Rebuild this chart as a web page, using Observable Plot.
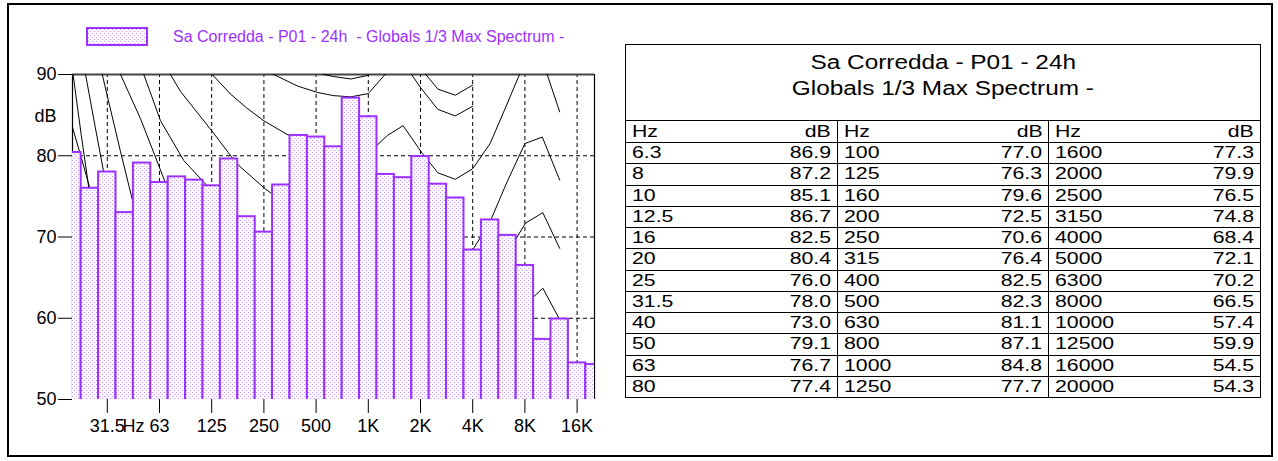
<!DOCTYPE html>
<html>
<head>
<meta charset="utf-8">
<script src="https://cdn.jsdelivr.net/npm/d3@7"></script>
<script src="https://cdn.jsdelivr.net/npm/@observablehq/plot@0.6"></script>
<style>
  html, body { margin: 0; padding: 0; background: #fff; }
  body { font-family: "Liberation Sans", Arial, Helvetica, sans-serif; }
  #page { position: relative; width: 1278px; height: 461px; overflow: hidden; background: #fff; }
  #frame { position: absolute; left: 7px; top: 3px; width: 1262px; height: 450px; border: 2px solid #000; box-sizing: content-box; }
  #chart { position: absolute; left: 0; top: 0; }
  #legend { position: absolute; left: 86px; top: 27px; height: 20px; display: flex; align-items: center; }
  #legend .txt { margin-left: 25px; font-size: 16px; color: #9b30ff; white-space: pre; }
  #tbl { position: absolute; left: 625px; top: 44px; border-collapse: collapse; table-layout: fixed; width: 635px; border: 1px solid #000; }
  #tbl td { padding: 0 6px; white-space: nowrap; overflow: visible; font-size: 17px; color: #000; border-bottom: 1px solid #000; line-height: 18px; }
  #tbl td.sep { border-right: 1px solid #000; }
  #tbl td.l { text-align: left; }
  #tbl td.r { text-align: right; }
  #tbl td span { display: inline-block; transform: scaleX(1.25); }
  #tbl td.l span { transform-origin: left center; }
  #tbl td.r span { transform-origin: right center; }
  #tbl td.title { text-align: center; vertical-align: top; padding-top: 4px; }
  #tbl td.title div { font-size: 19.5px; line-height: 26px; }
  #tbl td.title span { transform-origin: center center; }
</style>
</head>
<body>
<div id="page">
  <div id="frame"></div>
  <div id="chart"></div>
  <div id="legend"></div>
  <table id="tbl"></table>
</div>
<script>
// ---------------- data ----------------
const seriesName = "Sa Corredda - P01 - 24h  - Globals 1/3 Max Spectrum -";
const tableTitle1 = "Sa Corredda - P01 - 24h";
const tableTitle2 = "Globals 1/3 Max Spectrum -";
const unitHz = "Hz";
const unitDb = "dB";

const freqLabels = ["6.3","8","10","12.5","16","20","25","31.5","40","50","63","80",
  "100","125","160","200","250","315","400","500","630","800","1000","1250",
  "1600","2000","2500","3150","4000","5000","6300","8000","10000","12500","16000","20000"];
const levels = [86.9,87.2,85.1,86.7,82.5,80.4,76.0,78.0,73.0,79.1,76.7,77.4,
  77.0,76.3,79.6,72.5,70.6,76.4,82.5,82.3,81.1,87.1,84.8,77.7,
  77.3,79.9,76.5,74.8,68.4,72.1,70.2,66.5,57.4,59.9,54.5,54.3];

const chartFirstBand = "20";
const tickBands = ["31.5","63","125","250","500","1000","2000","4000","8000","16000"];
const tickLabels = ["31.5","63","125","250","500","1K","2K","4K","8K","16K"];
const yTicks = [50,60,70,80,90];
const yGrid = [60,70,80];
const yDomain = [50,90];

// isophonic reference curves: [band position (0 = 20 Hz), dB]
const isoLowA = [[0,83.5],[0.5,79.8],[1,76.0],[1.5,72.5]];
const isoLowB = [[-0.1,91.5],[0.04,89.9],[0.5,82.6],[0.94,76.0],[1.5,70]];
const isoLowC = [[0.6,92],[0.75,90],[1.3,83.6],[1.8,77.9],[2.5,71]];
const isoLowD = [[1.5,92.5],[1.71,90],[2.76,80.5],[3.52,73.9],[4.2,69]];
const isoLowE = [[2.5,91.3],[2.76,90],[3.91,84.55],[5.3,76.9],[6,74]];
const isoLowF = [[3.8,92],[4.1,90],[5.06,84.3],[6.4,79.4],[7.74,76.3],[8.5,75]];
const isoMidA = [[5.3,92],[5.63,90],[6.21,87.9],[8.03,83.0],[9.18,79.75],[9.56,78.8],[11.09,75.9],[12,74.5]];
const isoMidB = [[7.5,91.3],[8.03,90],[9.08,87.6],[10,85.9],[11,84.3],[12.43,82.5],[13,82]];
const iso876 = [[10.5,91.3],[11.57,90],[12.91,88.6],[14.06,87.8],[15,87.4],[16,87.25],[17,87.65],[18,90.1],[19,91.5],[20,88.4],[21,85.7],[22,84.9],[23,86.1]];
const iso900 = [[13.5,90.8],[14.44,90],[15,89.75],[16,89.45],[17,89.9],[18,92.5],[19,93.9],[20,90.8],[21,88.2],[22,87.45],[23,88.7]];
const iso796 = [[16.5,77.5],[17,79.5],[17.5,81.3],[18.1,82.5],[19,83.7],[20.1,80.3],[21,77.9],[22,77.1],[23,78.4],[24,81.5],[25,86.5],[25.69,90],[26,91.5]];
const isoHighA = [[22,66.8],[23,68.4],[24,71.9],[25,76.9],[26,81.5],[27,82.3],[28,77.0]];
const isoHighB = [[25,68.2],[25.55,70.0],[26.03,71.7],[27.03,73.0],[28,68.6]];
const isoHighC = [[26,60.5],[26.51,62.65],[27.03,63.7],[27.96,60.0]];
const isoHighD = [[26,90.5],[27,91.8],[28,85.4]];
const isoCurves = [isoLowA,isoLowB,isoLowC,isoLowD,isoLowE,isoLowF,isoMidA,isoMidB,iso876,iso900,iso796,isoHighA,isoHighB,isoHighC,isoHighD];

// ---------------- derived ----------------
const purple = "#9b30ff";
const dotColor = "#c596ff";
const start = freqLabels.indexOf(chartFirstBand);
const chartBands = freqLabels.slice(start);
const bars = chartBands.map((f, k) => ({band: k, freq: f, level: levels[start + k]}));
const lastBand = chartBands.length - 1;
const tickPos = tickBands.map(f => chartBands.indexOf(f));
const tickText = new Map(tickPos.map((p, i) => [p, tickLabels[i]]));
const hzPos = (tickPos[0] + tickPos[1]) / 2;
const curvePts = isoCurves.flatMap((c, ci) => c.map(([b, v]) => ({curve: ci, band: b, db: v})));

const patternDefs = () => {
  const defs = d3.create("svg:defs");
  const p = defs.append("pattern").attr("id", "dots")
    .attr("width", 4).attr("height", 4).attr("patternUnits", "userSpaceOnUse");
  p.append("rect").attr("width", 4).attr("height", 4).attr("fill", "#fdfbff");
  p.append("rect").attr("x", 0).attr("y", 0).attr("width", 1).attr("height", 1).attr("fill", dotColor);
  p.append("rect").attr("x", 2).attr("y", 2).attr("width", 1).attr("height", 1).attr("fill", dotColor);
  return defs.node();
};

const chart = Plot.plot({
  width: 620,
  height: 461,
  marginLeft: 72,
  marginRight: 26,
  marginTop: 74,
  marginBottom: 62,
  style: {fontFamily: "'Liberation Sans', Arial, Helvetica, sans-serif", fontSize: "18px", color: "#000", background: "transparent", overflow: "visible"},
  x: {domain: [0, lastBand], axis: null},
  y: {domain: yDomain, axis: null},
  marks: [
    patternDefs,
    Plot.ruleX(tickPos, {y1: yDomain[0], y2: yDomain[1], stroke: "#000", strokeWidth: 1, strokeDasharray: "4,3"}),
    Plot.ruleY(yGrid, {x1: 0, x2: lastBand, stroke: "#000", strokeWidth: 1, strokeDasharray: "4,3"}),
    Plot.ruleX([0, lastBand], {y1: yDomain[0], y2: yDomain[1], stroke: "#000", strokeWidth: 1.2}),
    Plot.ruleY([yDomain[1]], {x1: 0, x2: lastBand, stroke: "#444", strokeWidth: 2}),
    Plot.line(curvePts, {x: "band", y: "db", z: "curve", stroke: "#000", strokeWidth: 1, clip: true, curve: "linear"}),
    Plot.rect(bars, {x1: d => d.band - 0.5, x2: d => d.band + 0.5, y1: yDomain[0] - 1, y2: "level",
      fill: "url(#dots)", stroke: purple, strokeWidth: 2, clip: true}),
    Plot.axisY(yTicks, {anchor: "left", tickSize: 14, tickPadding: 2, label: null, fontSize: 18}),
    Plot.axisX(tickPos, {anchor: "bottom", tickSize: 14, tickPadding: 6, label: null, fontSize: 18, tickFormat: d => tickText.get(d)}),
    Plot.axisX([hzPos], {anchor: "bottom", tickSize: 0, tickPadding: 20, label: null, fontSize: 18, tickFormat: () => unitHz}),
    Plot.text([unitDb], {frameAnchor: "top-left", dx: -27, dy: 42, textAnchor: "middle", lineAnchor: "middle", fontSize: 18})
  ]
});
document.getElementById("chart").appendChild(chart);

// legend
const legend = d3.select("#legend");
const sw = legend.append("svg").attr("width", 62).attr("height", 20);
sw.append("rect").attr("x", 1).attr("y", 1).attr("width", 60).attr("height", 17)
  .attr("fill", "url(#dots)").attr("stroke", purple).attr("stroke-width", 2);
legend.append("span").attr("class", "txt").text(seriesName);

// table
const tbl = d3.select("#tbl");
const cg = tbl.append("colgroup");
for (let i = 0; i < 6; i++) cg.append("col").style("width", (635 / 6) + "px");
const tr0 = tbl.append("tr").style("height", "76px");
const tt = tr0.append("td").attr("colspan", 6).attr("class", "title");
tt.append("div").append("span").text(tableTitle1);
tt.append("div").append("span").text(tableTitle2);
const hdr = tbl.append("tr").style("height", "22px");
for (let g = 0; g < 3; g++) {
  hdr.append("td").attr("class", "l").append("span").text(unitHz);
  hdr.append("td").attr("class", "r" + (g < 2 ? " sep" : "")).append("span").text(unitDb);
}
const nRows = Math.ceil(freqLabels.length / 3);
for (let r = 0; r < nRows; r++) {
  const tr = tbl.append("tr").style("height", "21.25px");
  for (let g = 0; g < 3; g++) {
    const k = g * nRows + r;
    tr.append("td").attr("class", "l").append("span").text(freqLabels[k]);
    tr.append("td").attr("class", "r" + (g < 2 ? " sep" : "")).append("span").text(levels[k].toFixed(1));
  }
}
</script>
</body>
</html>
